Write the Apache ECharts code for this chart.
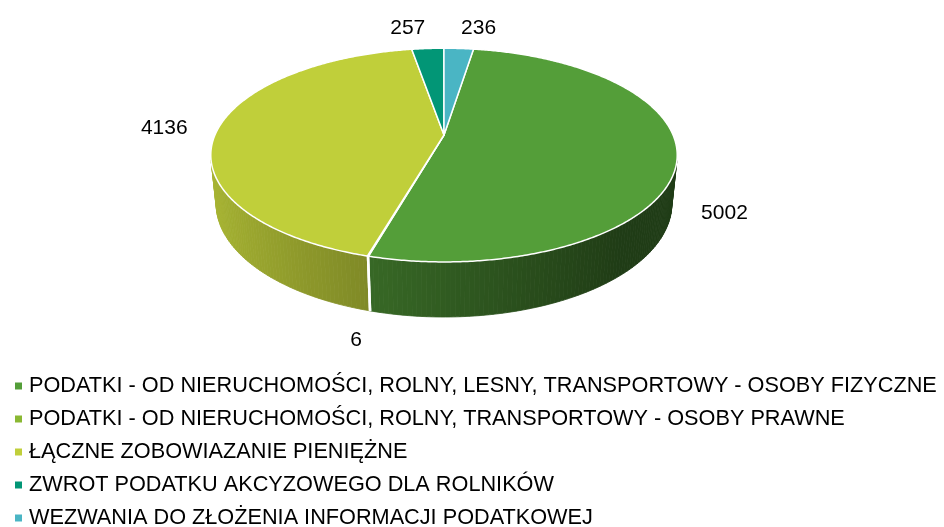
<!DOCTYPE html>
<html>
<head>
<meta charset="utf-8">
<script src="https://cdn.jsdelivr.net/npm/echarts@6/dist/echarts.min.js"></script>
<style>
html, body { margin: 0; padding: 0; background: #fff; }
#chart { width: 944px; height: 527px; }
</style>
</head>
<body>
<div id="chart"></div>
<script>
var categories = [
    'PODATKI - OD NIERUCHOMOŚCI, ROLNY, LESNY, TRANSPORTOWY - OSOBY FIZYCZNE',
    'PODATKI - OD NIERUCHOMOŚCI, ROLNY, TRANSPORTOWY - OSOBY PRAWNE',
    'ŁĄCZNE ZOBOWIAZANIE PIENIĘŻNE',
    'ZWROT PODATKU AKCYZOWEGO DLA ROLNIKÓW',
    'WEZWANIA DO ZŁOŻENIA INFORMACJI PODATKOWEJ'
];
var values = [5002, 6, 4136, 257, 236];
var colors = ['#549E39', '#8AB833', '#C0CF3A', '#029676', '#4AB5C4'];

var FONT = '"Liberation Sans", Arial, sans-serif';

// 3D pie look: a flat cylinder seen in perspective
var cx = 444, cy = 135, F = 1088, D = 4.75;
var sinA = 0.45, cosA = 0.893, depth = 0.2387;
var firstAngle = 8.8;   // degrees, clockwise from 12 o'clock

var total = values.reduce(function (a, b) { return a + b; }, 0);
var starts = [], ends = [];
var acc = firstAngle;
values.forEach(function (v) {
    starts.push(acc);
    acc += v / total * 360;
    ends.push(acc);
});

function project(deg, r, h) {
    var t = deg * Math.PI / 180;
    var X = r * Math.sin(t), Z = r * Math.cos(t);
    var v = h * cosA + Z * sinA;
    var w = Z * cosA - h * sinA;
    var s = F / (D + w);
    return [cx + X * s, cy - v * s];
}

function shade(hex, deg) {
    var f = 0.58 - 0.3 * Math.sin(deg * Math.PI / 180);
    f = Math.max(0.38, Math.min(1, f));
    var n = parseInt(hex.slice(1), 16);
    var r = Math.round(((n >> 16) & 255) * f);
    var g = Math.round(((n >> 8) & 255) * f);
    var b = Math.round((n & 255) * f);
    return 'rgb(' + r + ',' + g + ',' + b + ')';
}

function frontFacing(a0, a1) {
    var p = [project(a0, 1, 0), project(a1, 1, 0), project(a1, 1, -depth), project(a0, 1, -depth)];
    var s = 0;
    for (var i = 0; i < 4; i++) {
        var q = p[(i + 1) % 4];
        s += p[i][0] * q[1] - q[0] * p[i][1];
    }
    return s < 0;
}

function makeRender(idx) {
    return function (params, api) {
        var a0 = starts[idx], a1 = ends[idx];
        var col = colors[idx];
        var children = [];

        // top face
        var pts = [[cx, cy]];
        var n = Math.max(1, Math.ceil((a1 - a0) / 0.5));
        for (var k = 0; k <= n; k++) {
            pts.push(project(a0 + (a1 - a0) * k / n, 1, 0));
        }
        children.push({
            type: 'polygon', z2: 20,
            shape: { points: pts },
            style: { fill: col, stroke: '#fff', lineWidth: 1.5, lineJoin: 'round' }
        });

        // side wall, split into small facets
        var step = (a1 - a0) / Math.max(1, Math.ceil((a1 - a0) / 1));
        for (var a = a0; a < a1 - 1e-9; a += step) {
            var b = Math.min(a1, a + step);
            if (!frontFacing(a, b)) continue;
            var c = shade(col, (a + b) / 2);
            children.push({
                type: 'polygon', z2: 5,
                shape: { points: [project(a, 1, 0), project(b, 1, 0), project(b, 1, -depth), project(a, 1, -depth)] },
                style: { fill: c, stroke: c, lineWidth: 0.8 }
            });
        }
        [a0, a1].forEach(function (e) {
            if (frontFacing(e - 0.5, e + 0.5)) {
                var p = project(e, 1, 0), q = project(e, 1, -depth);
                children.push({
                    type: 'line', z2: 10,
                    shape: { x1: p[0], y1: p[1], x2: q[0], y2: q[1] },
                    style: { stroke: '#fff', lineWidth: 1.5 }
                });
            }
        });

        // value label outside the slice
        var mid = (a0 + a1) / 2;
        var t = mid * Math.PI / 180;
        var sn = Math.sin(t), cs = Math.cos(t);
        var anchor = cs < 0 ? project(mid, 1, -depth) : project(mid, 1, 0);
        var gy = cs > 0 ? 20 : 30;
        children.push({
            type: 'text', z2: 30,
            x: anchor[0] + 30 * sn,
            y: anchor[1] - gy * cs,
            style: {
                text: String(values[idx]),
                fill: '#000',
                font: '21px ' + FONT,
                align: sn < 0 ? 'right' : 'left',
                verticalAlign: 'middle'
            }
        });

        return { type: 'group', children: children };
    };
}

var series = categories.map(function (name, i) {
    return {
        type: 'custom',
        name: name,
        coordinateSystem: 'none',
        silent: true,
        itemStyle: { color: colors[i] },
        data: [[values[i]]],
        renderItem: makeRender(i)
    };
});

var chart = echarts.init(document.getElementById('chart'), null, { renderer: 'canvas' });
chart.setOption({
    animation: false,
    backgroundColor: '#fff',
    legend: {
        orient: 'vertical',
        left: 15,
        top: 375,
        height: 170,
        padding: 0,
        itemWidth: 7,
        itemHeight: 7,
        itemGap: 11,
        icon: 'rect',
        selectedMode: false,
        data: categories,
        textStyle: {
            color: '#000',
            fontSize: 21.7,
            fontFamily: FONT,
            padding: [0, 0, 0, 2]
        }
    },
    series: series
});
</script>
</body>
</html>
